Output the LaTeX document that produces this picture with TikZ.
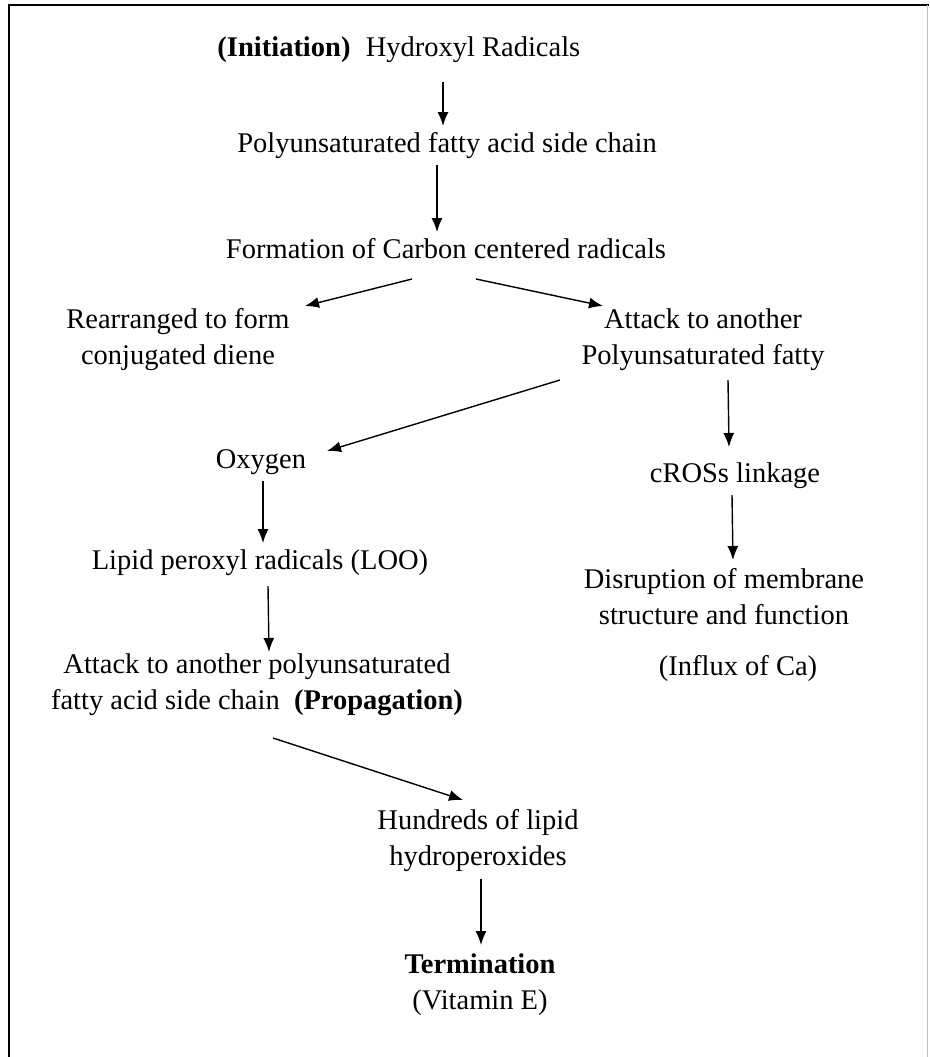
\documentclass[tikz,border=0pt]{standalone}
\usepackage{fontspec}
\setmainfont{Liberation Serif}
\usetikzlibrary{arrows.meta,calc}

\begin{document}
\begin{tikzpicture}[x=1pt,y=-1pt]
\tikzset{text style/.style={inner sep=3pt, align=center, font=\fontsize{28.5}{36}\selectfont},
         arrow style/.style={line width=1.4pt, -{Latex[length=14pt,width=11pt]}}}

\useasboundingbox (0,0) rectangle (929,1057);
\draw[line width=2pt] (9,1060) -- (9,5) -- (929,5);
\draw[line width=1pt, black!25] (927,5) -- (927,1060);

\node[text style] at (284, 50)   (init)     {\textbf{(Initiation)}};
\node[text style] at (473, 50)   (hydroxyl) {Hydroxyl Radicals};
\node[text style] at (447, 146)  (pufa)     {Polyunsaturated fatty acid side chain};
\node[text style] at (446, 249)  (carbon)   {Formation of Carbon centered radicals};

\node[text style] at (178, 340)  (rearr)    {Rearranged to form\\conjugated diene};
\node[text style] at (703, 340)  (attack)   {Attack to another\\Polyunsaturated fatty};

\node[text style] at (261, 462)  (oxygen)   {Oxygen};
\node[text style] at (260, 563)  (lipid)    {Lipid peroxyl radicals (LOO)};
\node[text style] at (257, 685)  (attack2)  {Attack to another polyunsaturated\\fatty acid side chain\ \ \textbf{(Propagation)}};

\node[text style] at (735, 476)  (cross)    {cROSs linkage};
\node[text style] at (724, 597)  (disrupt)  {Disruption of membrane\\structure and function};
\node[text style] at (738, 668)  (influx)   {(Influx of Ca)};

\node[text style] at (478, 841)  (hundreds) {Hundreds of lipid\\hydroperoxides};
\node[text style] at (480, 985)  (term)     {\textbf{Termination}\\(Vitamin E)};

\draw[arrow style] ($(hydroxyl)+(-30,32)$) -- ($(pufa)+(-4,-20)$);
\draw[arrow style] ($(pufa)+(-10,19)$)    -- ($(carbon)+(-9,-17)$);
\draw[arrow style] ($(carbon)+(-34,30)$)  -- ($(rearr)+(127,-34)$);
\draw[arrow style] ($(carbon)+(30,30)$)   -- ($(attack)+(-100,-34)$);
\draw[arrow style] ($(attack)+(-143,40)$) -- ($(oxygen)+(66,-11)$);
\draw[arrow style] ($(attack)+(25,40)$)   -- ($(cross)+(-6,-29)$);
\draw[arrow style] ($(oxygen)+(2,19)$)    -- ($(lipid)+(3,-20)$);
\draw[arrow style] ($(cross)+(-3,19)$)    -- ($(disrupt)+(9,-37)$);
\draw[arrow style] ($(lipid)+(8,23)$)     -- ($(attack2)+(12,-33)$);
\draw[arrow style] ($(attack2)+(16,53)$)  -- ($(hundreds)+(-15,-41)$);
\draw[arrow style] ($(hundreds)+(3,38)$)  -- ($(term)+(1,-40)$);
\end{tikzpicture}
\end{document}
